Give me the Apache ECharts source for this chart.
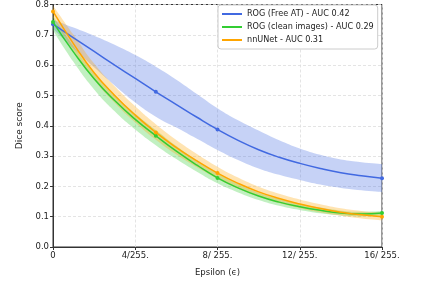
<!DOCTYPE html>
<html><head><meta charset="utf-8">
<script src="https://cdn.jsdelivr.net/npm/echarts@6/dist/echarts.min.js"></script>
<style>html,body{margin:0;padding:0;background:#fff}#c{width:425px;height:283px}</style>
</head><body><div id="c"></div>
<script>
// epsilon in units of 1/255
const eps = [0,1,2,3,4,5,6,7,8,9,10,11,12,13,14,15,16];
const markerEps = [0,5,8,16];
const xTickLabels = {0:'0',4:'4/255.',8:'8/ 255.',12:'12/ 255.',16:'16/ 255.'};
const seriesNames = ['ROG (Free AT) - AUC 0.42','ROG (clean images) - AUC 0.29','nnUNet - AUC 0.31'];

const blueMean = [0.735,0.69,0.645,0.60,0.556,0.512,0.47,0.428,0.388,0.352,0.321,0.296,0.276,0.259,0.245,0.235,0.227];
const blueHigh = [0.75,0.724,0.697,0.667,0.633,0.595,0.552,0.505,0.458,0.418,0.384,0.352,0.325,0.304,0.289,0.280,0.274];
const blueLow  = [0.72,0.655,0.593,0.533,0.477,0.43,0.394,0.357,0.32,0.287,0.259,0.238,0.221,0.206,0.195,0.187,0.181];

const greenMean = [0.742,0.643,0.555,0.483,0.421,0.367,0.316,0.270,0.228,0.195,0.168,0.148,0.133,0.121,0.112,0.109,0.112];
const greenHigh = [0.762,0.662,0.574,0.502,0.440,0.386,0.333,0.286,0.243,0.208,0.180,0.159,0.143,0.130,0.120,0.116,0.119];
const greenLow  = [0.715,0.610,0.520,0.448,0.388,0.336,0.290,0.248,0.210,0.180,0.155,0.136,0.122,0.111,0.104,0.101,0.104];

const orangeMean = [0.777,0.67,0.575,0.50,0.435,0.378,0.328,0.284,0.244,0.210,0.182,0.160,0.142,0.127,0.115,0.106,0.100];
const orangeHigh = [0.797,0.700,0.605,0.530,0.464,0.405,0.353,0.307,0.265,0.229,0.199,0.176,0.157,0.141,0.128,0.119,0.113];
const orangeLow  = [0.757,0.648,0.552,0.476,0.411,0.354,0.305,0.263,0.225,0.192,0.166,0.145,0.128,0.114,0.103,0.094,0.088];

const colors = ['#4169E1','#32CD32','#FFA500'];
const bandColors = ['rgba(65,105,225,0.30)','rgba(50,205,50,0.30)','rgba(255,165,0,0.30)'];

function bandSeries(low, high, idx){
  return [
    {type:'line', stack:'band'+idx, data: low.slice(), smooth:true, symbol:'none',
     lineStyle:{opacity:0}, silent:true, z:1},
    {type:'line', stack:'band'+idx, data: high.map((h,i)=>+(h-low[i]).toFixed(4)), smooth:true, symbol:'none',
     lineStyle:{opacity:0}, areaStyle:{color:bandColors[idx], opacity:1}, silent:true, z:1}
  ];
}
function meanSeries(mean, idx){
  return {name:seriesNames[idx], type:'line', smooth:true, z:3+idx,
    data: mean.map((v,i)=> markerEps.includes(eps[i]) ? {value:v} : {value:v, symbol:'none'}),
    symbol:'circle', symbolSize:4, showAllSymbol:true,
    lineStyle:{color:colors[idx], width:1.5}, itemStyle:{color:colors[idx]}};
}

const chart = echarts.init(document.getElementById('c'), null, {renderer:'canvas'});
const font = 'DejaVu Sans';
chart.setOption({
  animation:false,
  backgroundColor:'#fff',
  textStyle:{fontFamily:font},
  grid:{left:53, right:43, top:3, bottom:36, show:true, borderColor:'#333', borderWidth:1},
  legend:{
    data: seriesNames, orient:'vertical', left:218, top:5,
    itemWidth:20, itemHeight:2, icon:'rect', itemGap:5,
    backgroundColor:'#fff', borderColor:'#ccc', borderWidth:1, borderRadius:3,
    padding:[5,4,5,4],
    textStyle:{fontFamily:font, fontSize:8.1, color:'#222'}
  },
  xAxis:{type:'category', data: eps, boundaryGap:false,
    name:'Epsilon (\u03f5)', nameLocation:'middle', nameGap:21,
    nameTextStyle:{fontFamily:font, fontSize:8.5, color:'#222'},
    axisLine:{lineStyle:{color:'#333', width:1}},
    axisTick:{show:true, length:3, interval:3, lineStyle:{color:'#333'}},
    axisLabel:{fontFamily:font, fontSize:8.5, color:'#222', margin:4, interval:3, formatter:v=>xTickLabels[v]},
    splitLine:{show:true, interval:3, lineStyle:{color:'#ddd', type:[3,2], width:0.8}}},
  yAxis:{type:'value', min:0, max:0.8, interval:0.1,
    name:'Dice score', nameLocation:'middle', nameGap:25,
    nameTextStyle:{fontFamily:font, fontSize:9, color:'#222'},
    axisLine:{show:true, lineStyle:{color:'#333', width:1}},
    axisTick:{show:true, length:3, lineStyle:{color:'#333'}},
    axisLabel:{fontFamily:font, fontSize:8.5, color:'#222', margin:4, formatter:v=>v.toFixed(1)},
    splitLine:{show:true, lineStyle:{color:'#ddd', type:[3,2], width:0.8}}},
  series:[
    ...bandSeries(blueLow, blueHigh, 0),
    ...bandSeries(greenLow, greenHigh, 1),
    ...bandSeries(orangeLow, orangeHigh, 2),
    meanSeries(blueMean,0),
    meanSeries(greenMean,1),
    meanSeries(orangeMean,2)
  ]
});
</script></body></html>
